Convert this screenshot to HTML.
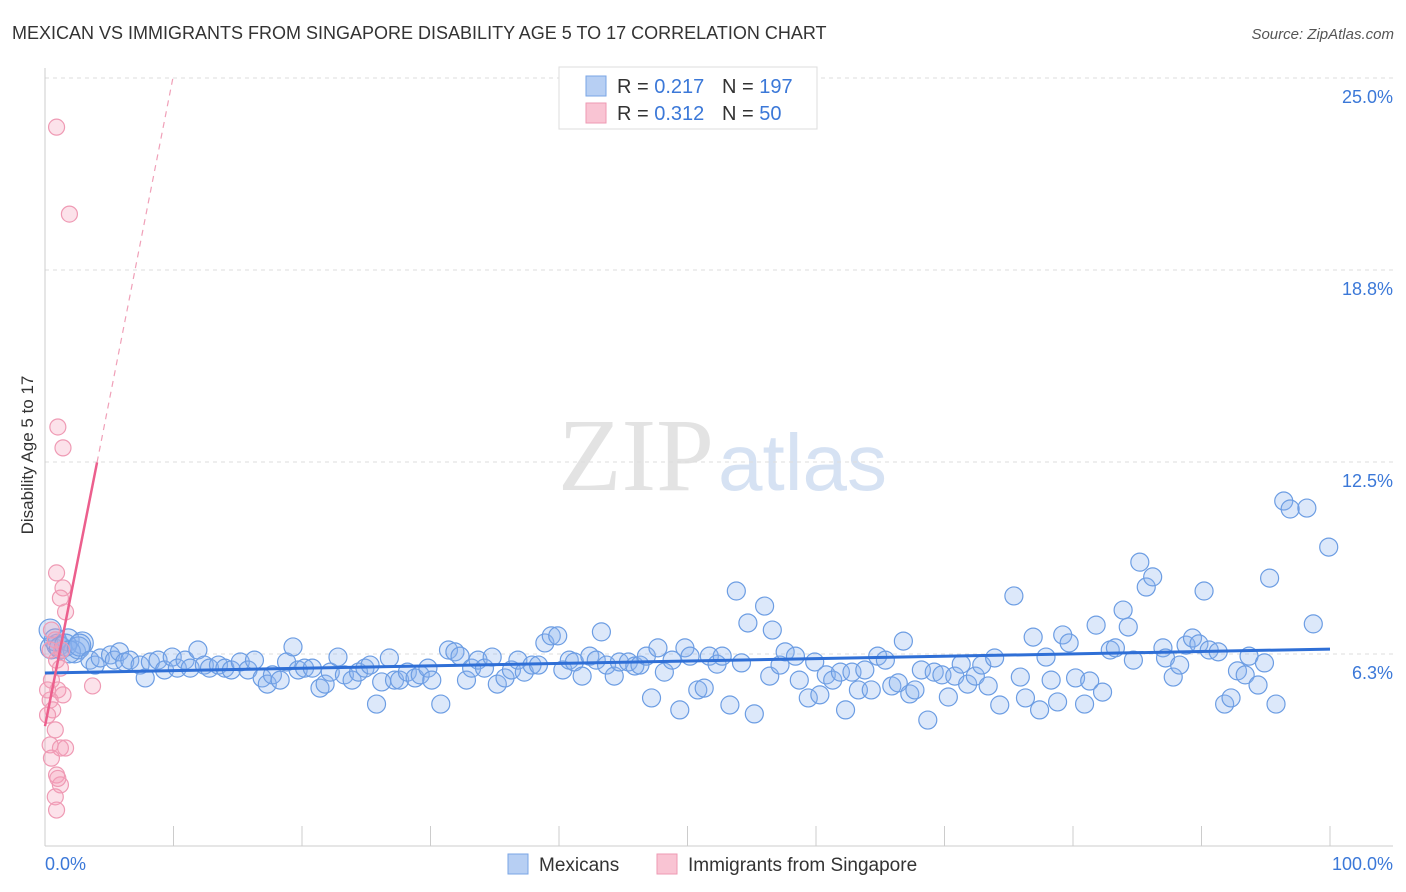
<!DOCTYPE html>
<html><head><meta charset="utf-8">
<style>
body{margin:0;background:#fff;font-family:"Liberation Sans",sans-serif;}
svg{display:block}
</style></head>
<body>
<svg id="chart" width="1406" height="892">
<text x="12" y="39" font-size="18" fill="#333">MEXICAN VS IMMIGRANTS FROM SINGAPORE DISABILITY AGE 5 TO 17 CORRELATION CHART</text>
<text x="1394" y="39" font-size="15" fill="#555" font-style="italic" text-anchor="end">Source: ZipAtlas.com</text>
<text x="714" y="490" font-size="104" fill="#e3e3e3" font-family="Liberation Serif,serif" text-anchor="end">ZIP</text>
<text x="718" y="490" font-size="80" fill="#d6e2f3">atlas</text>
<text transform="translate(33,455) rotate(-90)" font-size="17" fill="#333" text-anchor="middle">Disability Age 5 to 17</text>
<g id="grid"></g><g id="axes"></g><g id="pts"></g><g id="lines"></g>
<g>
<rect x="559" y="67" width="258" height="62" fill="#fff" stroke="#ddd"/>
<rect x="586" y="76" width="20" height="20" fill="#b7cff3" stroke="#7aa5e6"/>
<rect x="586" y="103" width="20" height="20" fill="#f9c4d3" stroke="#ee9ab3"/>
<text x="617" y="93" font-size="20" fill="#333">R = <tspan fill="#3b78d8">0.217</tspan></text>
<text x="722" y="93" font-size="20" fill="#333">N = <tspan fill="#3b78d8">197</tspan></text>
<text x="617" y="120" font-size="20" fill="#333">R = <tspan fill="#3b78d8">0.312</tspan></text>
<text x="722" y="120" font-size="20" fill="#333">N = <tspan fill="#3b78d8"> 50</tspan></text>
</g>
<g>
<rect x="508" y="854" width="20" height="20" fill="#b7cff3" stroke="#7aa5e6"/>
<text x="539" y="871" font-size="19" fill="#333">Mexicans</text>
<rect x="657" y="854" width="20" height="20" fill="#f9c4d3" stroke="#ee9ab3"/>
<text x="688" y="871" font-size="19" fill="#333">Immigrants from Singapore</text>
</g>
</svg>
<script>
const yTicks=[6.25,12.5,18.75,25];
const yTickLabels=["6.3%","12.5%","18.8%","25.0%"];
const xEndLabels=["0.0%","100.0%"];
const blueX=[0.4,0.5,1.0,1.8,2.3,2.9,0.8,1.2,1.6,1.9,2.6,2.7,3.5,3.9,4.3,5.1,5.4,5.8,6.2,6.6,7.4,7.8,8.2,8.8,9.3,9.9,10.3,10.9,11.3,11.9,12.4,12.8,13.5,14.0,14.5,15.2,15.8,16.3,16.9,17.3,17.7,18.3,18.8,19.3,19.7,20.2,20.8,21.4,21.8,22.2,22.8,23.3,23.9,24.4,24.9,25.3,25.8,26.2,26.8,27.2,27.6,28.2,28.8,29.2,29.8,30.1,30.8,31.4,31.9,32.3,32.8,33.2,33.7,34.2,34.8,35.2,35.8,36.3,36.8,37.3,37.9,38.4,38.9,39.4,39.9,40.3,40.8,41.2,41.8,42.4,42.9,43.3,43.7,44.3,44.7,45.4,45.9,46.3,46.8,47.2,47.7,48.2,48.8,49.4,49.8,50.2,50.8,51.3,51.7,52.3,52.7,53.3,53.8,54.2,54.7,55.2,56.0,56.4,56.6,57.2,57.6,58.4,58.7,59.4,59.9,60.3,60.8,61.3,61.9,62.3,62.8,63.3,63.8,64.3,64.8,65.4,65.9,66.4,66.8,67.3,67.7,68.2,68.7,69.2,69.8,70.3,70.8,71.3,71.8,72.4,72.9,73.4,73.9,74.3,75.4,75.9,76.3,76.9,77.4,77.9,78.3,78.8,79.2,79.7,80.2,80.9,81.3,81.8,82.3,82.9,83.3,83.9,84.3,84.7,85.2,85.7,86.2,87.0,87.2,87.8,88.3,88.8,89.3,89.8,90.2,90.6,91.3,91.8,92.3,92.8,93.4,93.7,94.4,94.9,95.3,95.8,96.4,96.9,98.2,98.7,99.9];
const blueY=[7.03,6.45,6.54,6.71,6.32,6.61,6.71,6.45,6.54,6.32,6.45,6.54,6.05,5.89,6.12,6.22,6.05,6.32,5.99,6.05,5.89,5.47,5.99,6.05,5.73,6.15,5.79,6.05,5.79,6.38,5.89,5.79,5.89,5.79,5.73,5.99,5.73,6.05,5.47,5.27,5.57,5.40,5.99,6.48,5.73,5.79,5.79,5.14,5.27,5.66,6.15,5.57,5.40,5.66,5.79,5.89,4.62,5.34,6.12,5.40,5.40,5.66,5.47,5.57,5.79,5.40,4.62,6.38,6.32,6.18,5.40,5.79,6.05,5.79,6.15,5.27,5.47,5.73,6.05,5.66,5.89,5.89,6.61,6.84,6.84,5.73,6.05,5.99,5.53,6.18,6.05,6.97,5.89,5.53,5.99,5.99,5.86,5.89,6.18,4.82,6.45,5.66,6.05,4.43,6.45,6.18,5.08,5.14,6.18,5.92,6.18,4.59,8.30,5.96,7.26,4.30,7.81,5.53,7.03,5.89,6.32,6.18,5.40,4.82,5.99,4.92,5.57,5.40,5.66,4.43,5.66,5.08,5.73,5.08,6.18,6.05,5.21,5.31,6.67,4.95,5.08,5.73,4.10,5.66,5.57,4.85,5.53,5.92,5.27,5.53,5.89,5.21,6.12,4.59,8.14,5.50,4.82,6.80,4.43,6.15,5.40,4.69,6.87,6.61,5.47,4.62,5.37,7.19,5.01,6.38,6.45,7.68,7.13,6.05,9.24,8.43,8.76,6.45,6.12,5.50,5.89,6.54,6.77,6.58,8.30,6.38,6.32,4.62,4.82,5.70,5.57,6.18,5.24,5.96,8.72,4.62,11.23,10.97,11.0,7.23,9.73];
const pinkX=[0.9,1.9,1.0,1.4,0.9,1.4,1.2,1.6,0.5,0.8,0.4,0.9,1.2,0.5,1.0,1.4,0.4,0.6,0.2,0.8,0.4,1.2,0.5,0.9,1.2,0.8,0.9,3.7,1.3,0.2,1.6,1.0];
const pinkY=[23.4,20.57,13.64,12.96,8.89,8.4,8.07,7.62,7.03,6.71,6.38,6.05,5.79,5.4,5.08,4.92,4.75,4.43,4.26,3.78,3.29,3.19,2.86,2.31,1.99,1.6,1.17,5.21,6.38,5.08,3.19,2.2];
const blueTrend=[5.63,6.41];
const pinkTrend=[3.9,2.12,4.05]; // intercept, slope, solid-end x
const X=v=>45+v*12.85, Y=v=>846-v*30.72;
const NS="http://www.w3.org/2000/svg";
function mk(tag,attrs,parent){const e=document.createElementNS(NS,tag);for(const k in attrs)e.setAttribute(k,attrs[k]);document.getElementById(parent).appendChild(e);return e;}
yTicks.forEach((t,i)=>{
 const l=mk('line',{x1:45,x2:1393,y1:Y(t),y2:Y(t),stroke:'#ddd','stroke-dasharray':'4,4'},'grid');
 
 
 const tx=mk('text',{x:1393,y:Y(t)+25,'font-size':18,fill:'#3b78d8','text-anchor':'end'},'grid');
 tx.textContent=yTickLabels[i];
 
 
});
const ax=mk('line',{x1:45,x2:1393,y1:846,y2:846,stroke:'#ccc'},'axes');


const ay=mk('line',{x1:45,x2:45,y1:68,y2:846,stroke:'#ccc'},'axes');


for(let i=0;i<=10;i++){
 const tk=mk('line',{x1:X(i*10),x2:X(i*10),y1:826,y2:846,stroke:'#ccc'},'axes');
 
 
}
const l0=mk('text',{x:45,y:870,'font-size':18,fill:'#3b78d8'},'axes');l0.textContent=xEndLabels[0];


const l1=mk('text',{x:1393,y:870,'font-size':18,fill:'#3b78d8','text-anchor':'end'},'axes');l1.textContent=xEndLabels[1];


blueX.forEach((x,i)=>{
 const c=mk('circle',{cx:X(x),cy:Y(blueY[i]),r:x<3?11:9,fill:'rgba(140,180,240,0.3)',stroke:'#6c9de3','stroke-width':1.2},'pts');
 
 
});
pinkX.forEach((x,i)=>{
 const c=mk('circle',{cx:X(x),cy:Y(pinkY[i]),r:8,fill:'rgba(245,160,185,0.3)',stroke:'#ef9ab4','stroke-width':1.2},'pts');
 
 
});
const bt=mk('line',{x1:X(0),x2:X(100),y1:Y(blueTrend[0]),y2:Y(blueTrend[1]),stroke:'#2f6fd6','stroke-width':3},'lines');


const xe=pinkTrend[2], xd=(25-pinkTrend[0])/pinkTrend[1];
const ps=mk('line',{x1:X(0),x2:X(xe),y1:Y(pinkTrend[0]),y2:Y(pinkTrend[0]+pinkTrend[1]*xe),stroke:'#ec5f8d','stroke-width':2.5},'lines');


const pd=mk('line',{x1:X(xe),x2:X(xd),y1:Y(pinkTrend[0]+pinkTrend[1]*xe),y2:Y(25),stroke:'#f0a0b8','stroke-width':1.2,'stroke-dasharray':'6,5'},'lines');


</script>
</body></html>
